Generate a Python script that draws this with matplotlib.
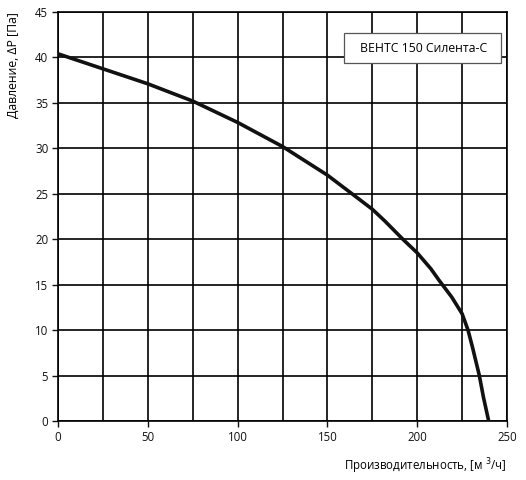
import matplotlib
matplotlib.use("Agg")
import matplotlib.pyplot as plt
from matplotlib.patches import Rectangle

flow = [0, 25, 50, 75, 100, 125, 150, 163.7, 175, 182, 192, 200, 207.6, 212.1, 219.2, 225, 228.3, 230.8, 234.6, 236.9, 239.8]
pressure = [40.4, 38.75, 37.1, 35.2, 32.85, 30.2, 27.05, 25.0, 23.3, 22.0, 20.0, 18.5, 16.75, 15.5, 13.64, 11.8, 10.0, 8.1, 5.0, 2.6, 0.0]
x_ticks = [0, 50, 100, 150, 200, 250]
y_ticks = [0, 5, 10, 15, 20, 25, 30, 35, 40, 45]
label = "ВЕНТС 150 Силента-С"

plt.rcParams['font.family'] = ['Open Sans', 'DejaVu Sans']
fig = plt.figure(figsize=(5.26, 4.8), dpi=100)
ax = fig.add_axes([58/526, 59/480, 449/526, 409/480])
ax.set_xlim(0, 250)
ax.set_ylim(0, 45)
ax.set_xticks(x_ticks)
ax.set_xticks(range(0, 251, 25), minor=True)
ax.set_yticks(y_ticks)
ax.grid(True, which='both', color='black', linewidth=1.2)
ax.tick_params(which='minor', length=0)
ax.tick_params(which='major', direction='out', length=4, width=1, labelsize=8.3, pad=3, colors='#111111')
for s in ax.spines.values():
    s.set_linewidth(1.2)
ax.plot(flow, pressure, color='#111111', linewidth=2.6, solid_capstyle='butt', solid_joinstyle='round', zorder=3)
ax.set_ylabel("Давление, ΔP [Па]", fontsize=8.8, loc='top', labelpad=11)
ax.set_xlabel("Производительность, [м $^{3}$/ч]", fontsize=8.3, loc='right', labelpad=9)
ax.add_patch(Rectangle((0.638, 0.8746), 0.349, 0.0734, transform=ax.transAxes,
                       facecolor='white', edgecolor='#555555', linewidth=0.9, zorder=5))
ax.text(0.814, 0.911, label, transform=ax.transAxes, ha='center', va='center', fontsize=8.8, zorder=6)
fig.savefig("out.png", dpi=100)
